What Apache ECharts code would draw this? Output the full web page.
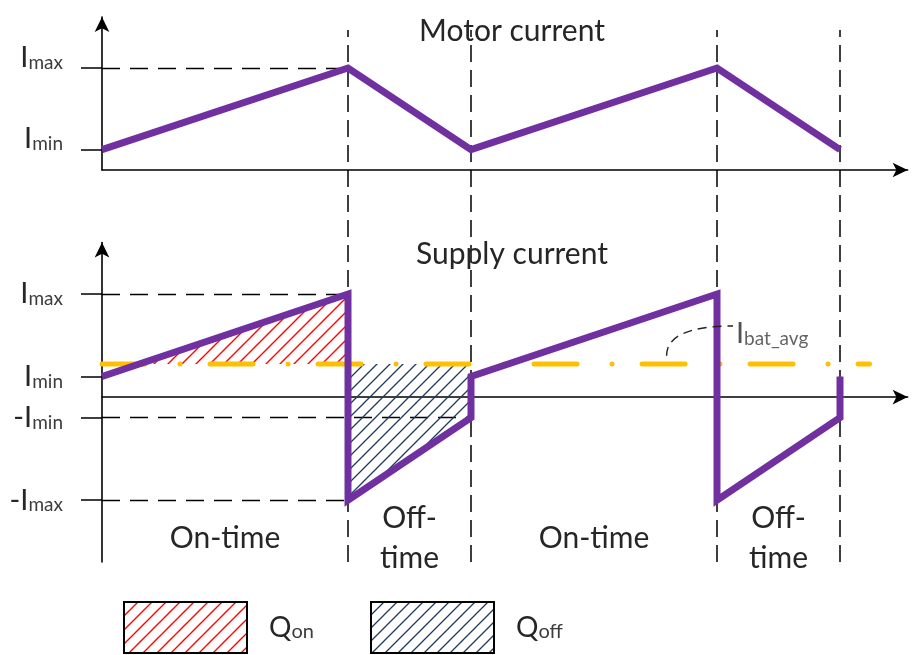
<!DOCTYPE html>
<html><head><meta charset="utf-8">
<script src="https://cdn.jsdelivr.net/npm/echarts@6/dist/echarts.min.js"></script>
<style>html,body{margin:0;padding:0;background:#fff}#c{width:916px;height:655px}</style>
</head><body><div id="c"></div>
<script>
// ---------------- data ----------------
const Imin = 0.2, Imax = 1.0, Iavg = 0.32;
const boundaryX = [2, 3, 5, 6];                 // on-time = 2 units, off-time = 1 unit
const motorX = [0, 2, 3, 5, 6];
const motorY = [0.2, 1, 0.2, 1, 0.2];
const supplyX = [0, 2, 2, 3, 3, 5, 5, 6, 6];
const supplyY = [0.2, 1, -1, -0.2, 0.2, 1, -1, -0.2, 0.2];
const avgX = [0, 6.24];
const phaseNames = ['On-time', 'Off-\ntime', 'On-time', 'Off-\ntime'];
const phaseCenters = [1, 2.5, 4, 5.5];
const topTickValues = [Imin, Imax];
const topTickLabels = [['I', 'min'], ['I', 'max']];
const bottomTickValues = [-Imax, -Imin, Imin, Imax];
const bottomTickLabels = [['-I', 'max'], ['-I', 'min'], ['I', 'min'], ['I', 'max']];
const topGuides = [[0, 2, Imax]];                          // [x from, x to, level]
const bottomGuides = [[0, 2, Imax], [0, 3, -Imin], [0, 2, -Imax]];
const leaderPts = [[4.59, 0.40], [4.59, 0.69], [5.13, 0.69]]; // start, control, end
const legendNames = ['Qon', 'Qoff'];
const legendSubs = ['on', 'off'];

// ---------------- derived ----------------
const xi = supplyX[0] + (Iavg - supplyY[0]) / (supplyY[1] - supplyY[0]) * (supplyX[1] - supplyX[0]);
const qonPoly = [[xi, Iavg], [supplyX[1], supplyY[1]], [supplyX[1], Iavg]];
const qoffPoly = [[supplyX[2], Iavg], [supplyX[3], Iavg], [supplyX[3], supplyY[3]], [supplyX[2], supplyY[2]]];

const FONT = 'Lato';
const TXT = '#262626';
const SUB = '#3c3c3c';
const PURPLE = '#7030A0';

function hatch(color, size, lw) {
  const c = document.createElement('canvas');
  c.width = size; c.height = size;
  const g = c.getContext('2d');
  g.strokeStyle = color; g.lineWidth = lw;
  g.beginPath();
  g.moveTo(0, size); g.lineTo(size, 0);
  g.moveTo(-size / 2, size / 2); g.lineTo(size / 2, -size / 2);
  g.moveTo(size / 2, size * 1.5); g.lineTo(size * 1.5, size / 2);
  g.stroke();
  return c;
}
const redPat = { image: hatch('#ff0000', 14, 1.4), repeat: 'repeat' };
const bluePat = { image: hatch('#1f3a5f', 13, 1.3), repeat: 'repeat' };

const richLab = {
  i: { fontFamily: FONT, fontSize: 29, lineHeight: 29, color: TXT },
  s: { fontFamily: FONT, fontSize: 19, lineHeight: 13, verticalAlign: 'bottom', color: SUB }
};
function fmt(values, labels) {
  return function (v) {
    for (let k = 0; k < values.length; k++) {
      if (Math.abs(values[k] - v) < 1e-6) return '{i|' + labels[k][0] + '}{s|' + labels[k][1] + '}';
    }
    return '';
  };
}

const UX = 123; // px per time unit
const XMAX = 6.55;
const gridW = XMAX * UX;

const axisLineStyle = { color: '#000', width: 1.6 };
const arrow = { symbol: ['none', 'arrow'], symbolSize: [11, 15] };

function guideSeries(guides, idx) {
  return {
    type: 'line', xAxisIndex: idx, yAxisIndex: idx, data: [], silent: true, z: 0,
    markLine: {
      silent: true, symbol: ['none', 'none'], label: { show: false }, animation: false, z: 0,
      lineStyle: { color: '#000', width: 1.4, type: [18, 10] },
      emphasis: { disabled: true },
      data: guides.map(g => [{ coord: [g[0], g[2]] }, { coord: [g[1], g[2]] }])
    }
  };
}
function polySeries(name, poly, pat) {
  return {
    type: 'custom', name: name, xAxisIndex: 1, yAxisIndex: 1, z: 2, silent: true,
    itemStyle: { color: pat },
    data: poly,
    renderItem: function (params, api) {
      if (params.dataIndex !== 0) return null;
      return { type: 'polygon', shape: { points: poly.map(p => api.coord(p)) }, style: { fill: pat, stroke: null } };
    }
  };
}
function legendFor(i, left, pat) {
  return {
    left: left, top: 601, padding: 0, itemWidth: 123, itemHeight: 51, icon: 'rect', selectedMode: false,
    data: [{ name: legendNames[i], itemStyle: { color: pat, borderColor: '#000', borderWidth: 2 } }],
    formatter: () => '{q|Q}{s|' + legendSubs[i] + '}',
    textStyle: {
      padding: [0, 0, 0, 17],
      rich: {
        q: { fontFamily: FONT, fontSize: 28, lineHeight: 28, color: TXT },
        s: { fontFamily: FONT, fontSize: 20, lineHeight: 14, verticalAlign: 'bottom', color: SUB }
      }
    }
  };
}

const chart = echarts.init(document.getElementById('c'), null, { renderer: 'canvas' });
chart.setOption({
  animation: false,
  backgroundColor: '#fff',
  title: [
    { text: 'Motor current', left: 512, top: 16, textAlign: 'center', padding: 0,
      textStyle: { fontFamily: FONT, fontSize: 30, fontWeight: 'normal', color: TXT } },
    { text: 'Supply current', left: 512, top: 239, textAlign: 'center', padding: 0,
      textStyle: { fontFamily: FONT, fontSize: 30, fontWeight: 'normal', color: TXT } }
  ],
  legend: [legendFor(0, 123, redPat), legendFor(1, 370, bluePat)],
  grid: [
    { left: 102, top: 17, width: gridW, height: 153, containLabel: false, outerBoundsMode: 'none' },
    { left: 102, top: 242.5, width: gridW, height: 319.5, containLabel: false, outerBoundsMode: 'none' },
    { left: 102, top: 30, width: gridW, height: 532, containLabel: false, outerBoundsMode: 'none' }
  ],
  xAxis: [
    { gridIndex: 0, type: 'value', min: 0, max: XMAX,
      axisLine: Object.assign({ show: true, lineStyle: axisLineStyle }, arrow),
      axisTick: { show: false }, axisLabel: { show: false }, splitLine: { show: false } },
    { gridIndex: 1, type: 'value', min: 0, max: XMAX,
      axisLine: Object.assign({ show: true, onZero: true, lineStyle: axisLineStyle }, arrow),
      axisTick: { show: false }, axisLabel: { show: false }, splitLine: { show: false } },
    { gridIndex: 2, type: 'value', min: 0, max: XMAX, show: false }
  ],
  yAxis: [
    { gridIndex: 0, type: 'value', min: 0, max: 1.5,
      axisLine: Object.assign({ show: true, lineStyle: axisLineStyle }, arrow),
      axisTick: { show: true, customValues: topTickValues, length: 21, lineStyle: { color: '#000', width: 1.5 } },
      axisLabel: { show: true, customValues: topTickValues, margin: 39, formatter: fmt(topTickValues, topTickLabels),
        rich: richLab, padding: [0, 0, 21, 0] },
      splitLine: { show: false } },
    { gridIndex: 1, type: 'value', min: -1.6, max: 1.5,
      axisLine: Object.assign({ show: true, lineStyle: axisLineStyle }, arrow),
      axisTick: { show: true, customValues: bottomTickValues, length: 21, lineStyle: { color: '#000', width: 1.5 } },
      axisLabel: { show: true, customValues: bottomTickValues, margin: 39, formatter: fmt(bottomTickValues, bottomTickLabels),
        rich: richLab },
      splitLine: { show: false } },
    { gridIndex: 2, type: 'value', min: 0, max: 1, show: false }
  ],
  series: [
    // phase boundaries
    { type: 'line', xAxisIndex: 2, yAxisIndex: 2, data: [], silent: true, z: 0,
      markLine: { silent: true, symbol: ['none', 'none'], label: { show: false }, z: 0,
        lineStyle: { color: '#000', width: 1.5, type: [17, 8] },
        data: boundaryX.map(x => ({ xAxis: x })) } },
    guideSeries(topGuides, 0),
    guideSeries(bottomGuides, 1),
    polySeries('Qon', qonPoly, redPat),
    polySeries('Qoff', qoffPoly, bluePat),
    // average battery current
    { type: 'line', xAxisIndex: 1, yAxisIndex: 1, z: 5, silent: true, showSymbol: false, symbol: 'none',
      data: avgX.map(x => [x, Iavg]),
      lineStyle: { color: '#FFC000', width: 5, type: [43, 35, 0.01, 30], cap: 'round' } },
    // motor current
    { type: 'line', xAxisIndex: 0, yAxisIndex: 0, z: 10, silent: true, showSymbol: false, symbol: 'none',
      data: motorX.map((x, i) => [x, motorY[i]]),
      lineStyle: { color: PURPLE, width: 7, join: 'miter' } },
    // supply current
    { type: 'line', xAxisIndex: 1, yAxisIndex: 1, z: 10, silent: true, showSymbol: false, symbol: 'none',
      data: supplyX.map((x, i) => [x, supplyY[i]]),
      lineStyle: { color: PURPLE, width: 7, join: 'miter' } },
    // leader to Ibat_avg
    { type: 'custom', xAxisIndex: 1, yAxisIndex: 1, z: 11, silent: true, data: leaderPts,
      renderItem: function (params, api) {
        if (params.dataIndex !== 0) return null;
        const a = api.coord(leaderPts[0]), c = api.coord(leaderPts[1]), b = api.coord(leaderPts[2]);
        return { type: 'bezierCurve', shape: { x1: a[0], y1: a[1], cpx1: c[0], cpy1: c[1], x2: b[0], y2: b[1] },
          style: { stroke: '#222', lineWidth: 1.4, lineDash: [9, 6], fill: null } };
      } },
    { type: 'scatter', xAxisIndex: 1, yAxisIndex: 1, z: 12, silent: true, symbolSize: 0,
      itemStyle: { color: '#000' },
      data: [leaderPts[2]],
      label: { show: true, position: 'right', distance: 3, offset: [0, 8], formatter: '{i|I}{s|bat_avg}', rich: richLab } },
    // phase labels
    { type: 'scatter', xAxisIndex: 1, yAxisIndex: 1, z: 12, silent: true, symbolSize: 0,
      itemStyle: { color: '#000' },
      data: phaseCenters.map((x, i) => [x, -1.37, phaseNames[i]]),
      label: { show: true, position: 'inside', formatter: p => p.data[2], opacity: 1, textBorderWidth: 0,
        fontFamily: FONT, fontSize: 30, lineHeight: 40, color: TXT, align: 'center' } }
  ]
});
</script></body></html>
